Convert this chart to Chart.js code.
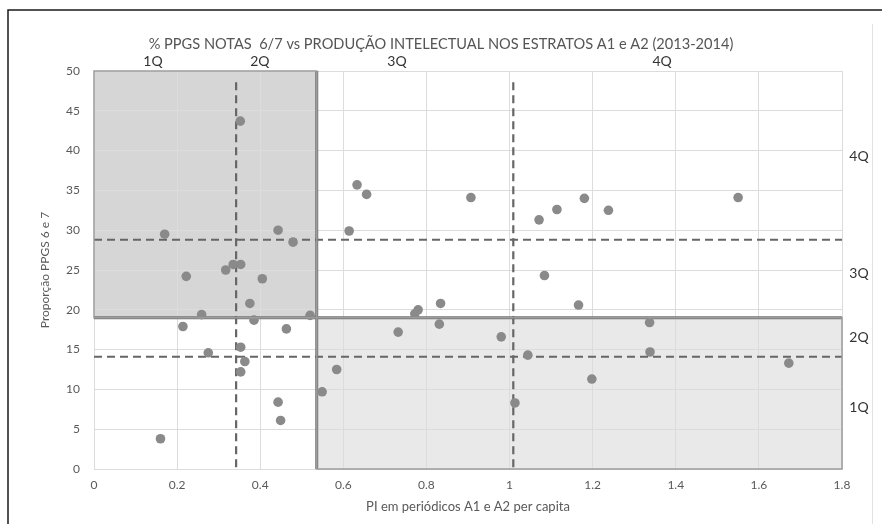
<!DOCTYPE html>
<html>
<head>
<meta charset="utf-8">
<script src="https://cdn.jsdelivr.net/npm/chart.js@4.4.1/dist/chart.umd.min.js"></script>
<style>
    html, body { margin: 0; padding: 0; background: #fff; }
    #contenedor { width: 882px; height: 524px; position: relative; }
</style>
</head>
<body>
<div id="contenedor"><canvas id="graficoPPGS" width="882" height="524"></canvas></div>
<script>
// PI per capita (x) y proporción de PPGS notas 6/7 (y)
const piPerCapita = [
    0.160, 0.170, 0.214, 0.222, 0.259, 0.275, 0.317, 0.335, 0.353, 0.352,
    0.353, 0.353, 0.363, 0.375, 0.385, 0.405, 0.443, 0.443, 0.449, 0.463,
    0.479, 0.520, 0.549, 0.584, 0.614, 0.633, 0.656, 0.732, 0.772, 0.780,
    0.831, 0.834, 0.907, 0.980, 1.013, 1.044, 1.071, 1.084, 1.114, 1.166,
    1.180, 1.198, 1.238, 1.337, 1.338, 1.550, 1.672
];
const proporcao = [
    3.8, 29.5, 17.9, 24.2, 19.4, 14.6, 25.0, 25.7, 25.7, 43.7,
    15.3, 12.2, 13.5, 20.8, 18.7, 23.9, 30.0, 8.4, 6.1, 17.6,
    28.5, 19.3, 9.7, 12.5, 29.9, 35.7, 34.5, 17.2, 19.5, 20.0,
    18.2, 20.8, 34.1, 16.6, 8.3, 14.3, 31.3, 24.3, 32.6, 20.6,
    34.0, 11.3, 32.5, 18.4, 14.7, 34.1, 13.3
];

// cortes de cuartiles
const cuartilX  = [0.342, 0.536, 1.009];   // Q1, mediana, Q3 de PI
const cuartilY  = [14.1, 19.0, 28.8];      // Q1, mediana, Q3 de proporción
const xTicks    = [0, 0.2, 0.4, 0.6, 0.8, 1, 1.2, 1.4, 1.6, 1.8];
const yTicks    = [0, 5, 10, 15, 20, 25, 30, 35, 40, 45, 50];

// etiquetas de cuartil: arriba (valor x) y a la derecha (valor y)
const etiquetasArriba  = ['1Q', '2Q', '3Q', '4Q'];
const posArriba        = [0.142, 0.399, 0.729, 1.367];
const etiquetasDerecha = ['4Q', '3Q', '2Q', '1Q'];
const posDerecha       = [39.2, 24.6, 16.5, 7.7];

const titulo = '% PPGS NOTAS  6/7 vs PRODUÇÃO INTELECTUAL NOS ESTRATOS A1 e A2 (2013-2014)';
const fuente = 'Lato, "Open Sans", sans-serif';

const puntos = piPerCapita.map((x, i) => ({ x: x, y: proporcao[i] }));

function linea(x1, y1, x2, y2, solida) {
    return {
        type: 'scatter',
        data: [{ x: x1, y: y1 }, { x: x2, y: y2 }],
        showLine: true,
        borderColor: solida ? '#747474' : '#666666',
        borderWidth: solida ? 3 : 2.2,
        borderDash: solida ? [] : [8, 5],
        pointRadius: 0,
        order: 2
    };
}

// — Sombreado de cuadrantes y textos —
const pluginCuadrantes = {
    id: 'cuadrantes',
    beforeDraw(chart) {
        const { ctx, scales: { x, y } } = chart;
        const xm = x.getPixelForValue(cuartilX[1]);
        const ym = y.getPixelForValue(cuartilY[1]);
        ctx.save();
        // marco de la figura
        ctx.strokeStyle = '#1a1a1a';
        ctx.lineWidth = 1.5;
        ctx.beginPath();
        ctx.moveTo(8, 524); ctx.lineTo(8, 10); ctx.lineTo(882, 10);
        ctx.stroke();
        ctx.strokeStyle = '#e2e2e2';
        ctx.lineWidth = 1;
        ctx.beginPath();
        ctx.moveTo(872.5, 24); ctx.lineTo(872.5, 524);
        ctx.stroke();

        ctx.fillStyle = '#d6d6d6';
        ctx.fillRect(x.getPixelForValue(0), y.getPixelForValue(50), xm - x.getPixelForValue(0), ym - y.getPixelForValue(50));
        ctx.fillStyle = '#e9e9e9';
        ctx.fillRect(xm, ym, x.getPixelForValue(1.8) - xm, y.getPixelForValue(0) - ym);
        ctx.restore();
    },
    afterDraw(chart) {
        const { ctx, scales: { x, y } } = chart;
        ctx.save();
        ctx.strokeStyle = '#9c9c9c';
        ctx.lineWidth = 1.5;
        const xm = x.getPixelForValue(cuartilX[1]);
        const ym = y.getPixelForValue(cuartilY[1]);
        ctx.strokeRect(x.getPixelForValue(0), y.getPixelForValue(50), xm - x.getPixelForValue(0), ym - y.getPixelForValue(50));
        ctx.strokeRect(xm, ym, x.getPixelForValue(1.8) - xm, y.getPixelForValue(0) - ym);

        ctx.fillStyle = '#555555';
        ctx.font = '14.6px ' + fuente;
        ctx.textAlign = 'center';
        ctx.textBaseline = 'middle';
        ctx.fillText(titulo, 441, 44);

        ctx.fillStyle = '#333333';
        ctx.font = '14px ' + fuente;
        etiquetasArriba.forEach((t, i) => ctx.fillText(t, x.getPixelForValue(posArriba[i]), 61));
        etiquetasDerecha.forEach((t, i) => ctx.fillText(t, 859, y.getPixelForValue(posDerecha[i])));
        ctx.restore();
    }
};

const datasets = [
    {
        type: 'scatter',
        data: puntos,
        backgroundColor: '#8a8a8a',
        borderWidth: 0,
        pointRadius: 4.8,
        order: 0
    },
    linea(cuartilX[0], 48.6, cuartilX[0], -0.5, false),
    linea(cuartilX[2], 48.6, cuartilX[2], -0.5, false),
    linea(0, cuartilY[0], 1.805, cuartilY[0], false),
    linea(0, cuartilY[2], 1.805, cuartilY[2], false),
    linea(cuartilX[1], 50, cuartilX[1], 0, true),
    linea(-0.01, cuartilY[1], 1.8, cuartilY[1], true)
];

new Chart(document.getElementById('graficoPPGS').getContext('2d'), {
    type: 'scatter',
    data: { datasets: datasets },
    plugins: [pluginCuadrantes],
    options: {
        responsive: false,
        animation: false,
        events: [],
        layout: { padding: { top: 71, right: 40, bottom: 6, left: 34 } },
        plugins: { legend: { display: false }, tooltip: { enabled: false } },
        scales: {
            x: {
                type: 'linear',
                min: 0, max: 1.8,
                afterFit: s => { s.height = 49; },
                afterBuildTicks: s => { s.ticks = xTicks.map(v => ({ value: v })); },
                grid: { color: '#dcdcdc', drawTicks: false },
                border: { display: false },
                ticks: {
                    padding: 9,
                    color: '#595959',
                    font: { family: fuente, size: 12 },
                    callback: v => String(v)
                },
                title: {
                    display: true,
                    text: 'PI em periódicos A1 e A2 per capita',
                    color: '#595959',
                    font: { family: fuente, size: 13 },
                    padding: { top: 0, bottom: 3 }
                }
            },
            y: {
                type: 'linear',
                min: 0, max: 50,
                afterFit: s => { s.width = 60; },
                afterBuildTicks: s => { s.ticks = yTicks.map(v => ({ value: v })); },
                grid: { color: '#dcdcdc', drawTicks: false },
                border: { display: false },
                ticks: {
                    padding: 14,
                    color: '#595959',
                    font: { family: fuente, size: 12 }
                },
                title: {
                    display: true,
                    text: 'Proporção PPGS 6 e 7',
                    color: '#595959',
                    font: { family: fuente, size: 12 },
                    padding: { top: 4, bottom: 0 }
                }
            }
        }
    }
});
</script>
</body>
</html>
